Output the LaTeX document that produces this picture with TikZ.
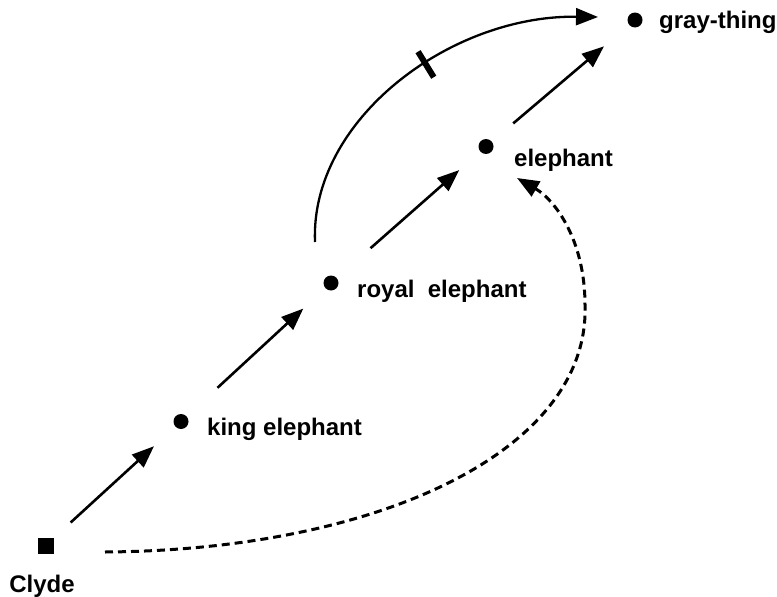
\documentclass[tikz,border=0pt]{standalone}
\usepackage{fontspec}
\setmainfont{Liberation Sans}
\usetikzlibrary{arrows.meta}

\begin{document}
\begin{tikzpicture}[x=1pt, y=-1pt,
  thing/.style={circle, fill, inner sep=0pt, minimum size=15pt},
  lbl/.style={anchor=base west, inner sep=0pt, font=\fontsize{24}{28}\selectfont\bfseries},
  isa/.style={line width=2.6pt, -{Triangle[length=22pt, width=17pt]}},
  maybe/.style={line width=3pt, dash pattern=on 8pt off 5pt, -{Triangle[length=22pt, width=17pt]}},
  bar/.style={rectangle, fill, inner sep=0pt, minimum width=6pt, minimum height=30pt}]
\useasboundingbox (0,0) rectangle (777,597);
\node [rectangle, fill, inner sep=0pt, minimum size=16pt] (clyde) at (45.5,545.5) {};
\node [thing] (king) at (181,421.5) {};
\node [thing] (royal) at (331,283) {};
\node [thing] (elephant) at (486,146.5) {};
\node [thing] (gray) at (635,20) {};
\node [lbl, anchor=base] (clyde-lbl) at (42,592) {Clyde};
\node [lbl] (king-lbl) at (207,435) {king elephant};
\node [lbl] (royal-lbl) at (357,297) {royal\ \ elephant};
\node [lbl] (elephant-lbl) at (514,166) {elephant};
\node [lbl] (gray-lbl) at (659,28) {gray-thing};
\draw [isa, shorten <=23pt, shorten >=29pt] (clyde) -- (king);
\draw [isa, shorten <=42pt, shorten >=30pt] (king) -- (royal);
\draw [isa, shorten <=45pt, shorten >=28pt] (royal) -- (elephant);
\draw [isa, shorten <=28pt, shorten >=33pt] (elephant) -- (gray);
\draw [isa, line width=2.3pt] ([shift={(-16,-41)}]royal.center) .. controls +(-5,-122) and +(-148,-2) .. ([shift={(-37,-3)}]gray.center) node [pos=0.58, sloped, bar] (cancel) {};
\draw [maybe] ([shift={(59.5,6.5)}]clyde.center) .. controls (380,550) and (590,450) .. (585,305) .. controls (585,240) and (555,200) .. ([shift={(31,31.5)}]elephant.center);
\end{tikzpicture}
\end{document}
